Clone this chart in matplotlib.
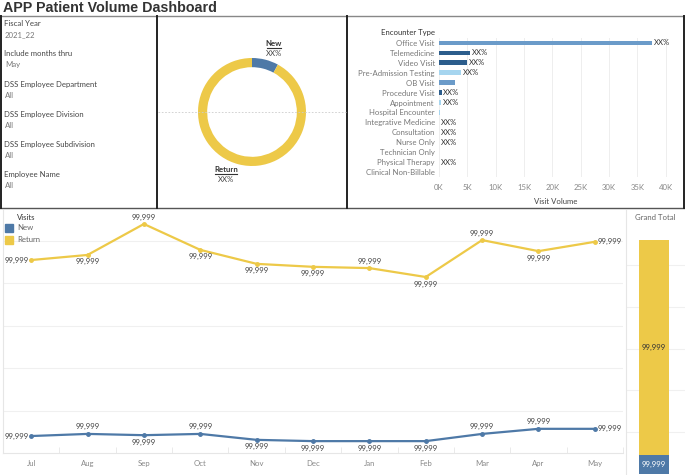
import numpy as np
import matplotlib
matplotlib.use("Agg")
import matplotlib.pyplot as plt

plt.rcParams['font.family'] = ['Lato', 'DejaVu Sans']

# ---- data ----
months = ['Jul', 'Aug', 'Sep', 'Oct', 'Nov', 'Dec', 'Jan', 'Feb', 'Mar', 'Apr', 'May']
return_visits = [4550, 4670, 5400, 4790, 4460, 4390, 4360, 4150, 5020, 4760, 4980]
new_visits = [400, 450, 420, 450, 310, 280, 280, 280, 450, 570, 570]

encounter_types = ['Office Visit', 'Telemedicine', 'Video Visit', 'Pre-Admission Testing',
                   'OB Visit', 'Procedure Visit', 'Appointment', 'Hospital Encounter',
                   'Integrative Medicine', 'Consultation', 'Nurse Only', 'Technician Only',
                   'Physical Therapy', 'Clinical Non-Billable']
encounter_volume = [37600, 5500, 4900, 3900, 2800, 450, 350, 200, 60, 60, 60, 40, 60, 40]
encounter_label = ['XX%', 'XX%', 'XX%', 'XX%', '', 'XX%', 'XX%', '', 'XX%', 'XX%', 'XX%', '', 'XX%', '']

filters = [('Fiscal Year', '2021_22'), ('Include months thru', 'May'),
           ('DSS Employee Department', 'All'), ('DSS Employee Division', 'All'),
           ('DSS Employee Subdivision', 'All'), ('Employee Name', 'All')]

yellow_lbl = ['left', 'below', 'above', 'below', 'below', 'below', 'above', 'below', 'above', 'below', 'right']
blue_lbl = ['left', 'above', 'below', 'above', 'below', 'below', 'below', 'below', 'above', 'above', 'right']

BLUE = '#4e79a7'
YELLOW = '#edc948'
DARK = '#2c5d8c'
MED = '#6b9bc9'
LIGHT = '#a6d5ef'
bar_colors = [MED, DARK, DARK, LIGHT, MED, DARK, LIGHT, LIGHT, LIGHT, LIGHT, LIGHT, LIGHT, LIGHT, LIGHT]
FS = 5.6

W, H = 685, 475
fig = plt.figure(figsize=(W / 100, H / 100), dpi=100)


def px(x0, y0, x1, y1):
    return [x0 / W, 1 - y1 / H, (x1 - x0) / W, (y1 - y0) / H]


# overlay for text / borders
ov = fig.add_axes([0, 0, 1, 1], zorder=5)
ov.set_xlim(0, W)
ov.set_ylim(H, 0)
ov.axis('off')
ov.patch.set_alpha(0)

ov.text(3, 8, 'APP Patient Volume Dashboard', fontsize=10.3, fontweight='bold',
        family=['Liberation Sans', 'DejaVu Sans'], color='#333333', va='center', ha='left')
ov.plot([0, W], [16, 16], color='#888888', lw=1)
ov.plot([0, W - 1], [208, 208], color='#555555', lw=1)
for x in [1, 157, 347, W - 1]:
    ov.plot([x, x], [16, 208], color='#222222', lw=1.4)

# filters
for i, (lab, val) in enumerate(filters):
    y = 24 + i * 30
    ov.text(4, y, lab, fontsize=FS, color='#444444', va='center')
    ov.text(5, y + 11, val, fontsize=FS, color='#777777', va='center')

# donut panel
ov.plot([158, 346], [112, 112], color='#cccccc', lw=0.6, ls=(0, (2, 2)))
ov.text(274, 44, 'New', fontsize=FS, fontweight='bold', color='#333333', ha='center', va='center')
ov.plot([267, 281], [47.5, 47.5], color='#333333', lw=0.8)
ov.text(274, 54, 'XX%', fontsize=FS, color='#444444', ha='center', va='center')
ov.text(226, 170, 'Return', fontsize=FS, fontweight='bold', color='#333333', ha='center', va='center')
ov.plot([215, 237], [173.5, 173.5], color='#333333', lw=0.8)
ov.text(226, 180, 'XX%', fontsize=FS, color='#444444', ha='center', va='center')

axd = fig.add_axes(px(198, 58, 306, 166))
axd.pie([sum(new_visits), sum(return_visits)], colors=[BLUE, YELLOW], startangle=90,
        counterclock=False, radius=1, wedgeprops=dict(width=0.17, linewidth=0))
axd.set_xlim(-1, 1)
axd.set_ylim(-1, 1)
axd.set_aspect('equal')
axd.axis('off')

# encounter type bar chart
axb = fig.add_axes(px(439, 38, 672, 177))
ypos = np.arange(len(encounter_types))
axb.barh(ypos, encounter_volume, height=0.48, color=bar_colors)
for yy, v, t in zip(ypos, encounter_volume, encounter_label):
    if t:
        axb.text(v + 300, yy, t, fontsize=FS, color='#333333', va='center', ha='left')
axb.set_ylim(len(encounter_types) - 0.5, -0.5)
axb.set_xlim(0, 41100)
axb.set_yticks(ypos)
axb.set_yticklabels(encounter_types, fontsize=FS, color='#777777')
xt = np.arange(0, 40001, 5000)
axb.set_xticks(xt)
axb.set_xticklabels([f'{int(v / 1000)}K' for v in xt], fontsize=FS, color='#888888')
axb.tick_params(length=0, pad=3)
axb.tick_params(axis='x', pad=5)
axb.grid(axis='x', color='#eeeeee', lw=0.7)
axb.set_axisbelow(True)
for s in axb.spines.values():
    s.set_visible(False)
axb.set_xlabel('Visit Volume', fontsize=FS, color='#444444', labelpad=5)
ov.text(435, 33, 'Encounter Type', fontsize=FS, color='#333333', ha='right', va='center')

# monthly line chart
axl = fig.add_axes(px(3, 210, 623, 453))
xs = np.arange(len(months))
axl.plot(xs, return_visits, color=YELLOW, lw=1.6, marker='o', ms=2.5, zorder=3)
axl.plot(xs, new_visits, color=BLUE, lw=1.6, marker='o', ms=2.5, zorder=3)
axl.set_xlim(-0.5, len(months) - 0.5)
axl.set_ylim(0, 5730)
axl.set_yticks(np.arange(1000, 5001, 1000))
axl.set_yticklabels([])
axl.tick_params(axis='y', length=0)
axl.grid(axis='y', color='#f0f0f0', lw=0.8)
axl.set_axisbelow(True)
axl.set_xticks(xs)
axl.set_xticklabels(months, fontsize=FS, color='#888888')
axl.set_xticks(np.arange(-0.5, len(months), 1), minor=True)
axl.tick_params(axis='x', which='major', length=0, pad=5)
axl.tick_params(axis='x', which='minor', length=4, direction='in', color='#e6e6e6')
for k in ['top', 'right']:
    axl.spines[k].set_visible(False)
axl.spines['left'].set_color('#e6e6e6')
axl.spines['bottom'].set_color('#e6e6e6')

offs = {'left': ((-2, 0), 'right', 'center'), 'right': ((2, 0), 'left', 'center'),
        'above': ((0, 2.5), 'center', 'bottom'), 'below': ((0, -2.5), 'center', 'top')}
for series, pos in [(return_visits, yellow_lbl), (new_visits, blue_lbl)]:
    for x, v, p in zip(xs, series, pos):
        o, ha, va = offs[p]
        axl.annotate('99,999', (x, v), xytext=o, textcoords='offset points',
                     fontsize=FS, color='#444444', ha=ha, va=va)

# legend
ov.text(26, 218, 'Visits', fontsize=FS, color='#333333', ha='center', va='center')
ov.add_patch(plt.Rectangle((5, 224), 8, 8, color=BLUE))
ov.text(17, 228, 'New', fontsize=FS, color='#666666', va='center')
ov.add_patch(plt.Rectangle((5, 236), 8, 8, color=YELLOW))
ov.text(17, 240, 'Return', fontsize=FS, color='#666666', va='center')

# grand total
axg = fig.add_axes(px(626, 210, 685, 474))
tot_new = sum(new_visits)
tot_ret = sum(return_visits)
axg.bar([0], [tot_new], width=0.5, color=BLUE)
axg.bar([0], [tot_ret], bottom=[tot_new], width=0.5, color=YELLOW)
axg.text(0, tot_new / 2, '99,999', fontsize=FS, color='white', ha='center', va='center')
axg.text(0, tot_new + tot_ret / 2, '99,999', fontsize=FS, color='#333333', ha='center', va='center')
axg.set_xlim(-0.48, 0.53)
axg.set_ylim(0, 63200)
axg.set_yticks(np.arange(10000, 50001, 10000))
axg.grid(axis='y', color='#f0f0f0', lw=0.8)
axg.set_axisbelow(True)
axg.tick_params(length=0, labelleft=False, labelbottom=False)
for k in ['top', 'right', 'bottom']:
    axg.spines[k].set_visible(False)
axg.spines['left'].set_color('#e6e6e6')
ov.text(655, 218, 'Grand Total', fontsize=FS, color='#666666', ha='center', va='center')

fig.savefig('out.png', dpi=100)
